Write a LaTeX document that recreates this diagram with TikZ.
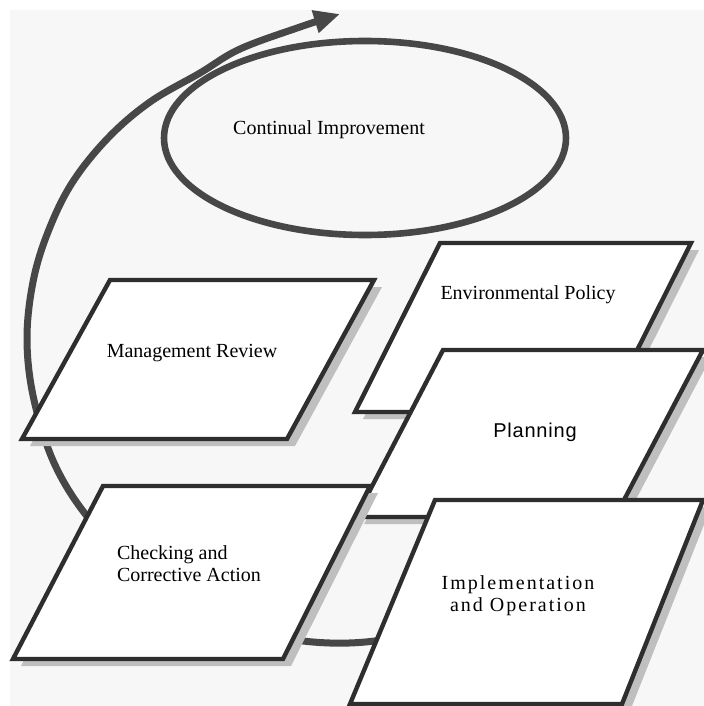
\documentclass[tikz,border=0pt]{standalone}
\usepackage{fontspec}
\setmainfont{Liberation Serif}
\newfontfamily\plansans{Liberation Sans}
\usetikzlibrary{arrows.meta}

\tikzset{
	spiral/.style={line width=3.5pt,draw=black!72,line cap=round},
	loop/.style={line width=3.3pt,draw=black!72},
	box/.style={line width=2.2pt,draw=black!82,fill=white},
	boxshadow/.style={fill=black!25,shift={(8,7)}}
}

\begin{document}
\begin{tikzpicture}[x=0.5pt,y=-0.5pt]
	\useasboundingbox (0,0) rectangle (704,706);
	\clip (0,0) rectangle (704,706);
	\fill[white] (0,0) rectangle (704,706);
	\fill[black!3] (10,10) rectangle (704,706);
	% the big spiral
	\draw[spiral,-{Triangle[length=13pt,width=11pt]}] plot[smooth,tension=0.6] coordinates {(455,618) (393,638) (330,643) (265,634) (200,610) (140,570) (90,520) (55,465) (34,400) (27,340) (33,282) (48,232) (72,183) (108,138) (150,102) (200,73) (240,49) (300,27) (340,14)};
	\draw[loop] (365,138) ellipse [x radius=201, y radius=97];
	\node (ci) at (329,130) {Continual Improvement};
	% boxes
	\fill[boxshadow] (110,280) -- (374,280) -- (287,439) -- (22,439) -- cycle;
	\draw[box] (110,280) -- (374,280) -- (287,439) -- (22,439) -- cycle;
	\node (mr) at (192,353) {Management Review};
	\fill[boxshadow] (440,243) -- (691,243) -- (606,412) -- (355,412) -- cycle;
	\draw[box] (440,243) -- (691,243) -- (606,412) -- (355,412) -- cycle;
	\node (ep) at (528,295) {Environmental Policy};
	\fill[boxshadow] (443,350) -- (703,350) -- (615,517) -- (356,517) -- cycle;
	\draw[box] (443,350) -- (703,350) -- (615,517) -- (356,517) -- cycle;
	\node[font=\plansans\addfontfeatures{LetterSpace=4}] (pl) at (535,432) {Planning};
	\fill[boxshadow] (103,486) -- (370,486) -- (283,659) -- (13,659) -- cycle;
	\draw[box] (103,486) -- (370,486) -- (283,659) -- (13,659) -- cycle;
	\node[align=left,anchor=west] (ca) at (110,564) {Checking and\\[-1pt]Corrective Action};
	\fill[boxshadow] (435,500) -- (703,500) -- (622,704) -- (350,704) -- cycle;
	\draw[box] (435,500) -- (703,500) -- (622,704) -- (350,704) -- cycle;
	\node[align=center,font=\addfontfeatures{LetterSpace=10}] (io) at (518,596) {Implementation\\[-1pt]and Operation};
\end{tikzpicture}
\end{document}
